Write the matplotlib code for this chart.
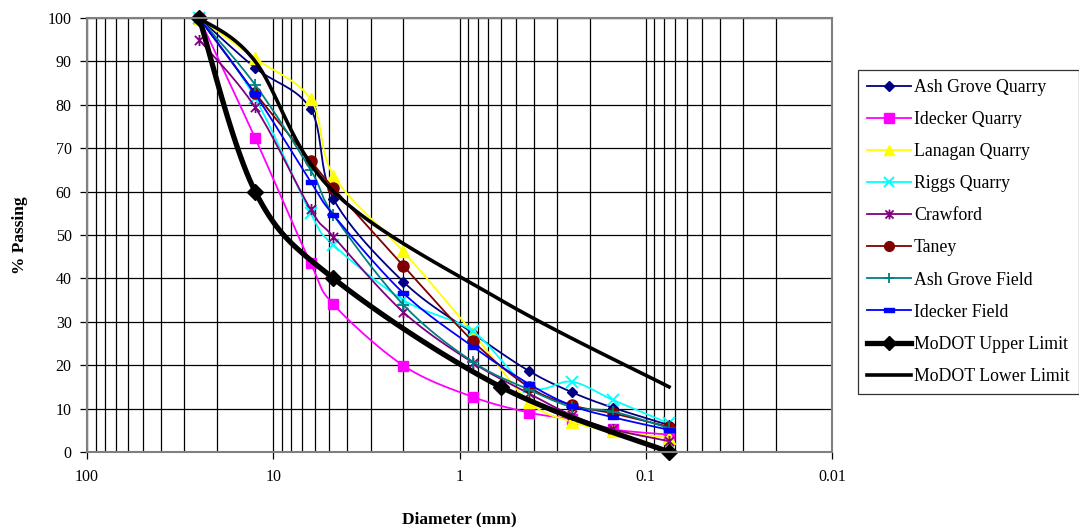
import numpy as np
import matplotlib
matplotlib.use("Agg")
import matplotlib.pyplot as plt
from matplotlib.path import Path
from matplotlib.ticker import FixedLocator, FuncFormatter, NullLocator

plt.rcParams['font.family'] = ['Liberation Serif', 'DejaVu Serif']

# Sieve openings (mm)
sieves = [25, 12.5, 6.3, 4.75, 2.0, 0.85, 0.425, 0.25, 0.15, 0.075]
limit_sieves = [25, 12.5, 4.75, 0.6, 0.075]

# Percent passing for each source
ash_grove_quarry = [100, 88.5, 79.0, 58.3, 39.2, 27.4, 18.7, 13.8, 10.2, 6.2]
idecker_quarry = [100, 72.3, 43.5, 34.0, 19.9, 12.7, 9.1, 7.5, 5.2, 4.0]
lanagan_quarry = [100, 90.7, 81.3, 63.7, 46.2, 27.5, 11.6, 7.0, 4.8, 3.3]
riggs_quarry = [100, 81.5, 55.0, 47.7, 35.0, 27.8, 15.0, 16.2, 12.0, 6.6]
crawford = [95, 79.4, 55.9, 49.6, 32.2, 20.6, 13.5, 8.5, 5.2, 2.5]
taney = [100, 82.7, 67.1, 60.8, 42.9, 25.6, 15.0, 10.8, 8.9, 5.8]
ash_grove_field = [100, 84.6, 65.0, 54.6, 33.9, 20.8, 14.4, 10.4, 9.3, 5.5]
idecker_field = [100, 82.4, 62.3, 54.6, 36.6, 24.3, 15.7, 10.7, 8.0, 5.1]

modot_upper = [100, 60, 40, 15, 0]
modot_lower = [100, 90, 60, 35, 15]

x_ticks = [100, 10, 1, 0.1, 0.01]
y_ticks = [0, 10, 20, 30, 40, 50, 60, 70, 80, 90, 100]

N_SEG = 24


def smooth(xs, ys, n=N_SEG):
    """Bezier smoothing through the points in (log x, y) space."""
    px = np.log10(np.asarray(xs, float))
    py = np.asarray(ys, float)
    P = np.column_stack([px, py])
    P = np.vstack([P[0], P, P[-1]])
    t = np.linspace(0, 1, n, endpoint=False)[:, None]
    out = []
    for i in range(1, len(P) - 2):
        p0, p1, p2, p3 = P[i - 1], P[i], P[i + 1], P[i + 2]
        c1 = p1 + (p2 - p0) / 6.0
        c2 = p2 - (p3 - p1) / 6.0
        seg = ((1 - t) ** 3) * p1 + 3 * ((1 - t) ** 2) * t * c1 \
            + 3 * (1 - t) * t ** 2 * c2 + t ** 3 * p2
        out.append(seg)
    out.append(P[-2][None, :])
    out = np.vstack(out)
    return 10 ** out[:, 0], out[:, 1]


dash = Path([(-1, -0.5), (1, -0.5), (1, 0.5), (-1, 0.5), (-1, -0.5)],
            [Path.MOVETO, Path.LINETO, Path.LINETO, Path.LINETO, Path.CLOSEPOLY])
star = Path([(-1, -1), (1, 1), (-1, 1), (1, -1), (0, -1.2), (0, 1.2)],
            [Path.MOVETO, Path.LINETO, Path.MOVETO, Path.LINETO, Path.MOVETO, Path.LINETO])

series = [
    ("Ash Grove Quarry", ash_grove_quarry, "#000080", "D", 5.5, {}),
    ("Idecker Quarry", idecker_quarry, "#FF00FF", "s", 7.5, {}),
    ("Lanagan Quarry", lanagan_quarry, "#FFFF00", "^", 8, {}),
    ("Riggs Quarry", riggs_quarry, "#00FFFF", "x", 8, {"mew": 1.4}),
    ("Crawford", crawford, "#800080", star, 8, {"mew": 1.3}),
    ("Taney", taney, "#800000", "o", 8, {}),
    ("Ash Grove Field", ash_grove_field, "#008080", "+", 9, {"mew": 1.3}),
    ("Idecker Field", idecker_field, "#0000FF", dash, 7, {}),
]

fig = plt.figure(figsize=(10.79, 5.27), dpi=100)
ax = fig.add_axes([87 / 1079, 1 - 452 / 527, (832 - 87) / 1079, (452 - 18) / 527])

for name, vals, col, mk, ms, extra in series:
    sx, sy = smooth(sieves, vals)
    ax.plot(sx, sy, color=col, lw=1.3, marker=mk, ms=ms, mfc=col, mec=col,
            markevery=slice(0, None, N_SEG), label=name, clip_on=False, **extra)

ux, uy = smooth(limit_sieves, modot_upper)
ax.plot(ux, uy, color="black", lw=3.8, marker="D", ms=8, mfc="black", mec="black",
        markevery=slice(0, None, N_SEG), label="MoDOT Upper Limit", clip_on=False)
lx, ly = smooth(limit_sieves, modot_lower)
ax.plot(lx, ly, color="black", lw=2.6, label="MoDOT Lower Limit", clip_on=False)

ax.set_xscale("log")
ax.set_xlim(100, 0.01)
ax.set_ylim(0, 100)

ax.xaxis.set_major_locator(FixedLocator(x_ticks))
ax.xaxis.set_major_formatter(FuncFormatter(lambda v, p: "%g" % v))
minor = [m * 10.0 ** e for e in range(-2, 2) for m in range(2, 10)]
ax.xaxis.set_minor_locator(FixedLocator(minor))
ax.yaxis.set_major_locator(FixedLocator(y_ticks))
ax.yaxis.set_minor_locator(NullLocator())

ax.grid(True, which="major", axis="both", color="black", lw=0.9)
ax.grid(True, which="minor", axis="x", color="black", lw=0.9)
ax.set_axisbelow(True)

for s in ax.spines.values():
    s.set_color("#808080")
    s.set_linewidth(1.5)

ax.tick_params(axis="both", which="major", direction="out", length=5, width=0.9,
               color="black", labelsize=11.5, pad=6)
ax.tick_params(axis="x", which="minor", length=0)
ax.tick_params(axis="x", which="major", pad=7)

ax.set_xlabel("Diameter (mm)", fontsize=12.5, fontweight="bold", labelpad=19)
ax.set_ylabel("% Passing", fontsize=12.5, fontweight="bold", labelpad=14)

leg = ax.legend(loc="upper left", bbox_to_anchor=(858 / 1079, 1 - 70 / 527),
                bbox_transform=fig.transFigure, frameon=True, fancybox=False,
                fontsize=12.8, handlelength=2.5, handletextpad=0.15,
                labelspacing=0.85, borderpad=0.5, borderaxespad=0)
leg.get_frame().set_edgecolor("black")
leg.get_frame().set_linewidth(0.9)
for h in leg.legend_handles:
    h.set_markersize(min(h.get_markersize(), 7))

fig.savefig("out.png", dpi=100)
